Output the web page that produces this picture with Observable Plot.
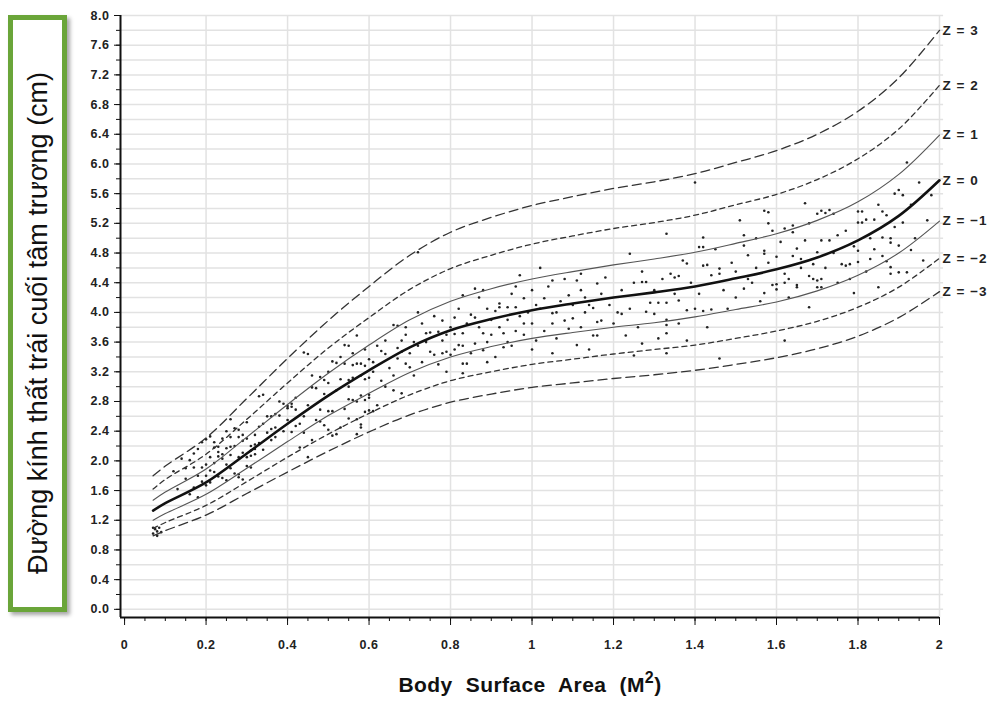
<!DOCTYPE html>
<html><head><meta charset="utf-8">
<script src="https://cdn.jsdelivr.net/npm/d3@7"></script>
<script src="https://cdn.jsdelivr.net/npm/@observablehq/plot@0.6"></script>
<style>
body{margin:0;background:#fff;}
#wrap{position:relative;width:999px;height:704px;overflow:hidden;font-family:"Liberation Sans",Arial,sans-serif;}
#chart{position:absolute;left:0;top:0;}
#chart svg text{letter-spacing:0.5px;}
#chart svg g[aria-label="text"] text{letter-spacing:1px;}
#ylab{position:absolute;left:8px;top:15px;width:49px;height:587px;border:5px solid #6aa539;background:#fff;box-shadow:3px 3px 4px rgba(0,0,0,0.35);}
#ylab span{position:absolute;left:50%;top:50%;transform:translate(-50%,-50%) translateY(9px) rotate(-90deg);white-space:nowrap;font-size:27px;color:#111;font-family:"Liberation Sans",Arial,sans-serif;}
#xlab{position:absolute;left:330px;width:400px;top:673px;text-align:center;font-size:21px;font-weight:bold;color:#111;word-spacing:7px;letter-spacing:0.4px;font-family:"Liberation Sans",Arial,sans-serif;}
#xlab sup{font-size:16px;line-height:0;vertical-align:0.55em;}
</style></head>
<body>
<div id="wrap"><div id="chart"></div><div id="ylab"><span>Đường kính thất trái cuối tâm trương (cm)</span></div><div id="xlab">Body Surface Area (M<sup>2</sup>)</div></div>
<script>
// Body surface area sample points for the Z-score curves
const bsa = [0.07,0.1,0.2,0.3,0.4,0.5,0.6,0.7,0.8,0.9,1.0,1.1,1.2,1.3,1.4,1.5,1.6,1.7,1.8,1.9,2.0];
const z3  = [1.80,1.93,2.31,2.84,3.38,3.89,4.35,4.77,5.08,5.28,5.44,5.56,5.67,5.76,5.87,6.02,6.18,6.40,6.71,7.16,7.80];
const z2  = [1.62,1.75,2.09,2.56,3.05,3.52,3.93,4.31,4.59,4.77,4.92,5.03,5.13,5.21,5.31,5.45,5.59,5.79,6.07,6.47,7.06];
const z1  = [1.47,1.58,1.89,2.32,2.76,3.18,3.56,3.90,4.15,4.32,4.45,4.55,4.64,4.72,4.81,4.93,5.06,5.24,5.49,5.86,6.39];
const z0  = [1.33,1.43,1.71,2.10,2.50,2.88,3.22,3.53,3.76,3.91,4.03,4.12,4.20,4.27,4.35,4.46,4.58,4.74,4.97,5.30,5.78];
const zm1 = [1.20,1.29,1.55,1.90,2.26,2.61,2.91,3.19,3.40,3.54,3.65,3.73,3.80,3.86,3.94,4.04,4.14,4.29,4.50,4.80,5.23];
const zm2 = [1.09,1.17,1.40,1.72,2.05,2.36,2.64,2.89,3.08,3.20,3.30,3.37,3.44,3.50,3.56,3.65,3.75,3.88,4.07,4.34,4.73];
const zm3 = [0.99,1.06,1.27,1.56,1.85,2.13,2.39,2.62,2.79,2.90,2.99,3.05,3.11,3.16,3.22,3.30,3.39,3.51,3.68,3.93,4.28];
const zLabels = ["Z = 3","Z = 2","Z = 1","Z = 0","Z = \u22121","Z = \u22122","Z = \u22123"];

// Scatter points [BSA, LVEDD]
const dots = [
[0.07,1.02],[0.075,1.08],[0.08,1.05],[0.085,1.10],[0.07,1.10],[0.09,1.04],[0.08,0.99],
[0.14,2.03],[0.16,2.01],[0.17,1.91],[0.19,1.91],[0.20,1.95],[0.17,1.64],[0.18,1.51],[0.20,1.67],[0.21,1.71],[0.20,2.29],[0.21,2.33],[0.22,2.18],[0.23,2.19],[0.23,2.12],[0.23,2.06],[0.24,2.09],[0.24,2.03],[0.25,2.17],[0.26,2.19],[0.27,2.20],[0.26,2.08],[0.27,2.44],[0.28,2.42],[0.28,2.32],[0.29,2.35],[0.29,2.27],[0.29,2.11],[0.30,2.05],[0.31,2.14],[0.31,2.20],[0.32,2.16],[0.32,2.22],[0.33,2.46],[0.34,2.50],[0.23,1.79],[0.24,1.77],[0.25,1.74],[0.27,1.83],[0.28,1.78],[0.30,1.93],[0.31,1.91],[0.31,2.07],[0.32,2.09],[0.33,2.87],[0.34,2.89],[0.36,2.60],[0.37,2.63],[0.38,2.61],[0.39,2.77],[0.40,2.74],[0.41,2.77],[0.40,2.71],[0.41,2.73],[0.42,2.69],[0.44,3.46],[0.45,3.44],[0.46,2.99],[0.47,2.98],[0.48,3.13],[0.49,3.09],[0.50,3.05],[0.53,3.10],[0.55,3.09],[0.56,3.12],[0.54,3.56],[0.55,3.55],[0.51,3.34],[0.52,3.32],[0.54,3.31],[0.56,3.29],[0.57,3.31],[0.58,3.31],[0.59,3.28],[0.57,3.69],[0.48,2.69],[0.50,2.67],[0.51,2.67],[0.55,2.83],[0.56,2.82],[0.57,2.80],[0.58,2.88],[0.60,2.89],[0.59,2.66],[0.60,2.68],[0.61,2.67],[0.55,2.57],[0.57,2.56],[0.58,2.49],[0.48,2.53],[0.49,2.48],[0.42,2.47],[0.43,2.50],[0.39,2.40],[0.41,2.39],[0.36,2.28],[0.37,2.32],[0.33,2.24],[0.28,1.82],[0.29,1.75],[0.35,2.38],[0.36,2.43],[0.44,2.38],[0.51,2.34],[0.52,2.36],[0.57,2.36],[0.58,2.45],
[0.12,1.86],[0.13,1.62],[0.15,1.76],[0.16,1.55],[0.18,2.16],[0.19,2.25],[0.21,1.87],[0.22,1.97],[0.25,1.95],[0.26,2.32],[0.19,1.72],[0.21,2.05],[0.26,2.56],[0.30,2.52],[0.43,2.18],[0.46,2.28],[0.50,2.42],[0.45,2.05],[0.53,2.45],
[0.15,1.90],[0.17,2.10],[0.18,1.80],[0.20,1.80],[0.22,1.85],[0.22,2.25],[0.24,2.30],[0.25,2.40],[0.26,1.90],[0.28,2.05],[0.30,2.30],[0.32,2.35],[0.34,2.15],[0.35,2.60],[0.37,2.45],[0.38,2.80],[0.40,2.55],[0.42,2.85],[0.44,2.60],[0.45,2.75],[0.46,3.15],[0.47,2.55],[0.49,2.90],[0.50,3.20],[0.52,2.95],[0.53,3.40],[0.54,2.70],[0.55,3.00],[0.56,3.45],[0.58,3.15],[0.59,3.50],[0.61,3.20],
[0.72,4.81],[0.86,4.32],[0.83,4.23],[0.87,4.20],[0.72,4.00],[0.66,3.83],[0.67,3.82],[0.69,3.80],[0.78,3.89],[0.81,3.93],[0.85,3.97],[0.86,3.93],[0.89,4.05],[0.91,4.02],[0.92,4.12],[0.92,4.07],[0.94,4.07],[0.96,4.07],[0.98,4.19],[1.05,4.43],[1.11,4.43],[1.09,4.23],[1.03,4.19],[1.14,4.10],[1.15,4.06],[1.05,3.99],[1.08,3.89],[1.10,3.92],[1.00,3.85],[1.05,3.85],[0.74,3.72],[0.75,3.73],[0.77,3.74],[0.79,3.70],[0.81,3.71],[0.83,3.72],[0.88,3.72],[0.90,3.70],[0.93,3.72],[0.96,3.75],[0.98,3.70],[0.68,3.62],[0.75,3.47],[0.76,3.43],[0.78,3.45],[0.79,3.47],[0.80,3.43],[0.82,3.56],[0.83,3.55],[0.86,3.58],[0.88,3.49],[0.68,3.47],[0.67,3.38],[0.63,3.48],[0.64,3.44],[0.60,3.37],[0.61,3.33],[0.69,3.31],[0.70,3.26],[0.73,3.33],[0.83,3.31],[0.84,3.31],[0.89,3.33],[0.93,3.53],[1.05,3.45],[1.11,3.56],[0.59,3.10],[0.60,3.12],[0.63,3.08],[0.68,2.91],[0.83,3.18],[0.60,2.85],[0.59,2.82],[0.62,2.75],
[0.62,3.55],[0.64,3.62],[0.65,3.25],[0.66,3.15],[0.67,3.52],[0.69,3.70],[0.70,3.45],[0.71,3.60],[0.64,3.00],[0.66,2.95],[0.71,3.15],[0.72,3.55],[0.73,3.85],[0.74,3.60],[0.76,3.95],[0.77,3.30],[0.78,3.62],[0.79,3.20],[0.80,3.80],[0.81,3.50],[0.82,4.05],[0.84,3.85],[0.85,3.45],[0.87,3.80],[0.88,4.30],[0.89,3.60],[0.90,3.90],[0.91,3.40],[0.92,3.80],[0.94,3.90],[0.95,3.55],[0.96,4.35],[0.98,3.85],[0.99,4.00],[1.00,3.50],
[0.95,4.25],[1.00,4.30],[1.02,4.05],[1.07,4.15],[1.12,4.30],[1.13,4.00],[0.97,3.95],[1.01,3.62],[1.06,3.65],[1.09,3.78],[0.94,3.60],[1.12,4.52],[1.02,4.60],[0.97,4.50],
[1.01,4.10],[1.03,3.75],[1.04,4.35],[1.06,4.00],[1.08,4.45],[1.10,4.10],[1.12,3.80],[1.13,4.20],[1.14,3.50],[1.17,4.25],[1.19,4.10],[1.20,3.85],[1.22,4.30],[1.24,4.05],[1.26,3.80],[1.27,4.55],[1.30,4.30],[1.31,3.65],[1.32,4.45],[1.35,4.25],[1.36,3.85],[1.37,4.70],[1.39,4.40],[1.41,4.25],[1.43,3.80],[1.44,4.50],[1.45,4.85],[1.47,4.30],[1.48,4.05],[1.50,4.55],
[1.24,4.79],[1.33,5.06],[1.40,5.75],[1.41,4.88],[1.42,4.88],[1.42,5.01],[1.51,5.24],[1.52,5.04],[1.57,5.37],[1.58,5.35],[1.59,5.10],[1.16,4.39],[1.18,4.47],[1.25,4.40],[1.27,4.41],[1.28,4.41],[1.34,4.52],[1.35,4.47],[1.36,4.49],[1.38,4.66],[1.42,4.63],[1.43,4.64],[1.46,4.59],[1.46,4.52],[1.49,4.67],[1.53,4.77],[1.57,4.83],[1.57,4.79],[1.58,4.67],[1.54,4.40],[1.59,4.37],[1.60,4.38],[1.60,4.31],[1.57,4.26],[1.52,4.32],[1.29,4.13],[1.31,4.13],[1.33,4.13],[1.36,4.16],[1.38,4.03],[1.40,4.05],[1.42,4.02],[1.44,4.04],[1.21,4.00],[1.22,3.98],[1.28,4.01],[1.30,3.98],[1.33,3.90],[1.33,3.83],[1.16,3.87],[1.17,3.89],[1.15,3.69],[1.16,3.69],[1.23,3.69],[1.33,3.72],[1.38,3.62],[1.27,3.58],[1.25,3.42],[1.33,3.45],[1.46,3.38],[1.62,3.62],
[1.50,4.20],[1.52,4.90],[1.53,4.45],[1.55,4.60],[1.55,5.00],[1.56,4.15],[1.58,5.20],[1.60,4.75],[1.61,4.95],[1.62,4.40],[1.66,4.60],[1.68,5.20],[1.69,4.65],[1.72,4.60],[1.74,4.80],[1.75,4.40],[1.77,5.10],[1.78,4.45],[1.82,4.55],[1.83,5.00],[1.84,4.85],[1.85,5.45],[1.89,5.15],[1.90,4.90],[1.93,5.45],[1.94,5.00],[1.95,5.75],[1.96,4.70],
[1.67,5.47],[1.71,5.37],[1.70,5.33],[1.72,5.34],[1.73,5.38],[1.74,5.33],[1.89,5.60],[1.90,5.65],[1.91,5.58],[1.92,6.02],[1.98,5.58],[1.80,5.36],[1.81,5.36],[1.86,5.36],[1.80,5.21],[1.81,5.21],[1.82,5.25],[1.84,5.25],[1.87,5.31],[1.91,5.21],[1.97,5.24],[1.62,5.13],[1.64,5.17],[1.64,5.08],[1.67,4.97],[1.71,4.97],[1.73,4.97],[1.75,5.04],[1.65,4.86],[1.70,4.81],[1.79,4.89],[1.80,4.83],[1.86,5.01],[1.88,5.00],[1.88,4.94],[1.93,4.84],[1.64,4.76],[1.66,4.72],[1.76,4.65],[1.77,4.63],[1.78,4.65],[1.80,4.68],[1.83,4.72],[1.86,4.76],[1.87,4.69],[1.62,4.52],[1.63,4.45],[1.65,4.37],[1.65,4.34],[1.68,4.49],[1.69,4.45],[1.70,4.43],[1.71,4.45],[1.70,4.34],[1.71,4.34],[1.88,4.61],[1.88,4.52],[1.90,4.54],[1.92,4.54],[1.85,4.34],[1.79,4.26],[1.68,4.07],[1.63,4.20]
];

// Axis tick positions
const xMajor = [0,0.2,0.4,0.6,0.8,1,1.2,1.4,1.6,1.8,2];
const xMinor = d3.range(0, 41).map(i => i * 0.05);
const yMajor = d3.range(0, 21).map(i => i * 0.4);
const yMinor = d3.range(0, 41).map(i => i * 0.2);

const curves = [
  {values: z3,  stroke: "#333", width: 1.3, dash: "9,5"},
  {values: z2,  stroke: "#333", width: 1.3, dash: "5,4"},
  {values: z1,  stroke: "#555", width: 1.1, dash: null},
  {values: z0,  stroke: "#111", width: 2.6, dash: null},
  {values: zm1, stroke: "#555", width: 1.1, dash: null},
  {values: zm2, stroke: "#333", width: 1.3, dash: "5,4"},
  {values: zm3, stroke: "#333", width: 1.3, dash: "9,5"}
];
const labelRows = curves.map((c, i) => ({x: bsa[bsa.length-1], y: c.values[c.values.length-1], t: zLabels[i]}));
const fmtX = d => String(+d.toFixed(2));
const font = "Liberation Sans, Arial, sans-serif";

const lineMarks = curves.map(c => Plot.line(bsa.map((b, i) => ({b, v: c.values[i]})), {
  x: "b", y: "v", curve: "catmull-rom", stroke: c.stroke, strokeWidth: c.width,
  strokeDasharray: c.dash || undefined
}));

const plot = Plot.plot({
  width: 999, height: 704,
  marginLeft: 120, marginRight: 60, marginTop: 15, marginBottom: 87,
  style: {fontFamily: font, background: "transparent"},
  x: {domain: [-0.01, 2.0]},
  y: {domain: [-0.11, 8.0]},
  marks: [
    Plot.ruleY(yMinor, {x1: -0.01, x2: 2.01, stroke: "#e2e2e2", strokeWidth: 1.5}),
    Plot.ruleX(xMajor.filter(d => d > 0), {y1: -0.11, y2: 8.0, stroke: "#e2e2e2", strokeWidth: 1.5}),
    Plot.dot(dots, {x: d => d[0], y: d => d[1], r: 1.3, fill: "#222", stroke: null}),
    ...lineMarks,
    Plot.ruleX([-0.01], {y1: -0.11, y2: 8.0, stroke: "#111", strokeWidth: 2}),
    Plot.ruleY([-0.11], {x1: -0.01, x2: 2.0, stroke: "#111", strokeWidth: 2}),
    Plot.axisY(yMinor, {anchor: "left", tickSize: 4, tickFormat: () => "", label: null, stroke: "#111"}),
    Plot.axisY(yMajor, {anchor: "left", tickSize: 6, tickPadding: 5, tickFormat: d3.format(".1f"), label: null,
      fontSize: 12.5, fontWeight: "bold", fill: "#222", stroke: "#111"}),
    Plot.axisX(xMinor, {anchor: "bottom", tickSize: 4, tickFormat: () => "", label: null, stroke: "#111"}),
    Plot.axisX(xMajor, {anchor: "bottom", tickSize: 8, tickPadding: 15, tickFormat: fmtX, label: null,
      fontSize: 12.5, fontWeight: "bold", fill: "#222", stroke: "#111"}),
    Plot.text(labelRows, {x: "x", y: "y", text: "t", textAnchor: "start", dx: 3, fontSize: 13.5, fontWeight: "bold", fill: "#222"})
  ]
});
document.getElementById("chart").appendChild(plot);
</script>
</body></html>
